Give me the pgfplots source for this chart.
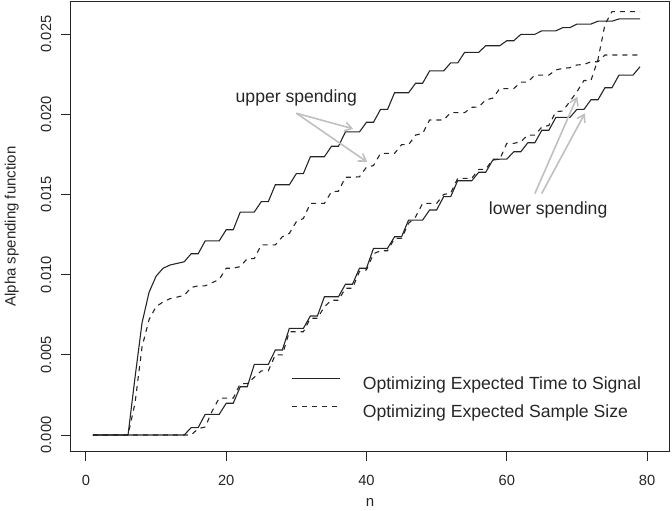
\documentclass[border=0pt]{standalone}
\usepackage{fontspec}
\setmainfont{Liberation Sans}
\usepackage{pgfplots}
\pgfplotsset{compat=1.18}
\usepackage{pgfplotstable}
\usetikzlibrary{arrows.meta}
\definecolor{lc}{RGB}{38,38,38}
\definecolor{ar}{RGB}{192,192,192}

\pgfplotstableread{
n SU DU SL DL
1 0 0 0 0
2 0 0 0 0
3 0 0 0 0
4 0 0 0 0
5 0 0 0 0
6 0 0 0 0
7 0.0036 0.0020 0 0
8 0.0070 0.0055 0 0
9 0.0089 0.0072 0 0
10 0.0099 0.0080 0 0
11 0.0104 0.0083 0 0
12 0.0106 0.0085 0 0
13 0.0107 0.0086 0 0
14 0.0108 0.0087 0 0
15 0.0113 0.0092 0.00046 0
16 0.0113 0.0093 0.00046 0.0004
17 0.0121 0.0093 0.00129 0.0005
18 0.0121 0.0095 0.00129 0.0015
19 0.0121 0.0097 0.00129 0.0023
20 0.0128 0.0104 0.00198 0.0023
21 0.0128 0.0104 0.00198 0.0023
22 0.0139 0.0105 0.00301 0.0032
23 0.0139 0.0110 0.00301 0.0032
24 0.0139 0.0110 0.0044 0.0036
25 0.01455 0.01185 0.0044 0.0040
26 0.01455 0.01185 0.0044 0.0040
27 0.0156 0.01185 0.0053 0.0050
28 0.0156 0.01236 0.0053 0.0050
29 0.0156 0.01257 0.00665 0.00644
30 0.0163 0.0133 0.00665 0.00644
31 0.0163 0.0135 0.00665 0.00644
32 0.01735 0.01444 0.00742 0.00728
33 0.01735 0.01444 0.00742 0.00728
34 0.01735 0.01444 0.00862 0.0080
35 0.0180 0.01517 0.00862 0.0084
36 0.0180 0.0152 0.00862 0.0084
37 0.0189 0.01607 0.0094 0.00915
38 0.0189 0.01607 0.0094 0.00915
39 0.0189 0.0161 0.0104 0.0102
40 0.0195 0.0167 0.0104 0.0103
41 0.0195 0.0168 0.01164 0.0113
42 0.0203 0.01756 0.01164 0.01149
43 0.0203 0.01756 0.01164 0.01149
44 0.02134 0.01756 0.01236 0.01226
45 0.02134 0.0181 0.01236 0.01226
46 0.02134 0.0181 0.0134 0.0132
47 0.02193 0.0187 0.0134 0.0136
48 0.02193 0.0188 0.0134 0.01444
49 0.0227 0.01964 0.01403 0.01444
50 0.0227 0.01964 0.01403 0.01444
51 0.0227 0.01964 0.01486 0.0150
52 0.0232 0.0201 0.01486 0.01507
53 0.0232 0.0201 0.01585 0.0160
54 0.02386 0.0201 0.01585 0.0160
55 0.02386 0.02043 0.01585 0.0160
56 0.02386 0.02045 0.01638 0.01656
57 0.02427 0.02089 0.01638 0.01656
58 0.02427 0.0210 0.01714 0.01719
59 0.02427 0.0216 0.0172 0.0172
60 0.02458 0.0216 0.0172 0.01818
61 0.02458 0.0216 0.01766 0.01818
62 0.02498 0.0220 0.01766 0.01829
63 0.02498 0.0220 0.01822 0.0187
64 0.02498 0.02244 0.01822 0.0187
65 0.0252 0.02244 0.0190 0.0192
66 0.0252 0.02244 0.0190 0.0193
67 0.0252 0.02276 0.0198 0.02016
68 0.0254 0.02286 0.0198 0.0202
69 0.0254 0.0229 0.0198 0.0208
70 0.02562 0.02307 0.0203 0.0214
71 0.02562 0.0231 0.0203 0.0221
72 0.02562 0.02327 0.0209 0.0221
73 0.0258 0.02327 0.0209 0.0234
74 0.0258 0.02369 0.02165 0.0256
75 0.0258 0.02369 0.02165 0.0264
76 0.02594 0.02369 0.02244 0.0264
77 0.02594 0.02369 0.02244 0.0264
78 0.02594 0.02369 0.02244 0.0264
79 0.02594 0.02369 0.02296 0.0264
}\data

\begin{document}
\begin{tikzpicture}
\begin{axis}[
  scale only axis, width=598.4bp, height=450.4bp,
  xmin=-2.16, xmax=83.16, ymin=-0.00104, ymax=0.02704,
  axis line style={lc, line width=0.9bp},
  xtick={0,20,40,60,80},
  ytick={0,0.005,0.01,0.015,0.02,0.025},
  tick pos=left, tick align=outside, major tick length=9.5bp,
  tick style={lc, line width=0.9bp},
  scaled y ticks=false,
  /pgf/number format/assume math mode=true,
  ticklabel style={font=\fontsize{14.7bp}{17bp}\selectfont, text=lc},
  yticklabel style={/pgf/number format/.cd, fixed, fixed zerofill, precision=3, /tikz/.cd, rotate=90, anchor=south},
  xticklabel shift=11bp,
  yticklabel shift=6.4bp,
  xlabel={n}, ylabel={Alpha spending function},
  label style={font=\fontsize{15bp}{18bp}\selectfont, text=lc},
  xlabel style={at={(axis description cs:0.5,-0.112)}, anchor=center},
  ylabel style={at={(axis description cs:-0.0985,0.5)}, anchor=center, rotate=0},
  legend style={draw=none, fill=none, inner sep=0pt, outer sep=0pt,
    at={(axis cs:29.37,0.003622)}, anchor=north west, row sep=11.7bp,
    nodes={inner sep=0pt, text height=12.6bp, text depth=3.7bp,
      font=\fontsize{17.6bp}{21bp}\selectfont, text=lc},
    /tikz/every odd column/.append style={column sep=21.8bp}},
  legend cell align=left,
  legend image code/.code={\draw[#1] (0bp,6.5bp) -- (48bp,6.5bp);},
  every axis plot/.append style={line width=1.1bp, lc},
]
\addplot[lc, line width=1.1bp] table[x=n, y=SU] {\data};
\addlegendentry{Optimizing Expected Time to Signal}
\addplot[lc, line width=1.1bp, dash pattern=on 5bp off 5bp] table[x=n, y=DU] {\data};
\addlegendentry{Optimizing Expected Sample Size}
\addplot[lc, line width=1.1bp, forget plot] table[x=n, y=SL] {\data};
\addplot[lc, line width=1.1bp, dash pattern=on 5bp off 5bp, forget plot] table[x=n, y=DL] {\data};

\node[font=\fontsize{17.6bp}{21bp}\selectfont, text=lc] at (axis cs:30.0,0.02103) {upper spending};
\node[font=\fontsize{17.6bp}{21bp}\selectfont, text=lc] at (axis cs:65.9,0.01403) {lower spending};
\draw[ar, line width=1.6bp, -{Straight Barb[length=7bp,width=9bp]}] (axis cs:30.0,0.02006) -- (axis cs:38.1,0.01909);
\draw[ar, line width=1.6bp, -{Straight Barb[length=7bp,width=9bp]}] (axis cs:30.0,0.02006) -- (axis cs:40.1,0.01702);
\draw[ar, line width=1.6bp, -{Straight Barb[length=7bp,width=9bp]}] (axis cs:64.0,0.01505) -- (axis cs:70.05,0.02109);
\draw[ar, line width=1.6bp, -{Straight Barb[length=7bp,width=9bp]}] (axis cs:64.97,0.01505) -- (axis cs:71.14,0.02006);
\end{axis}
\pgfresetboundingbox
\path[use as bounding box] ([xshift=-70.8bp,yshift=-59.3bp]current axis.south west) rectangle ([xshift=2.8bp,yshift=1.3bp]current axis.north east);
\end{tikzpicture}
\end{document}
